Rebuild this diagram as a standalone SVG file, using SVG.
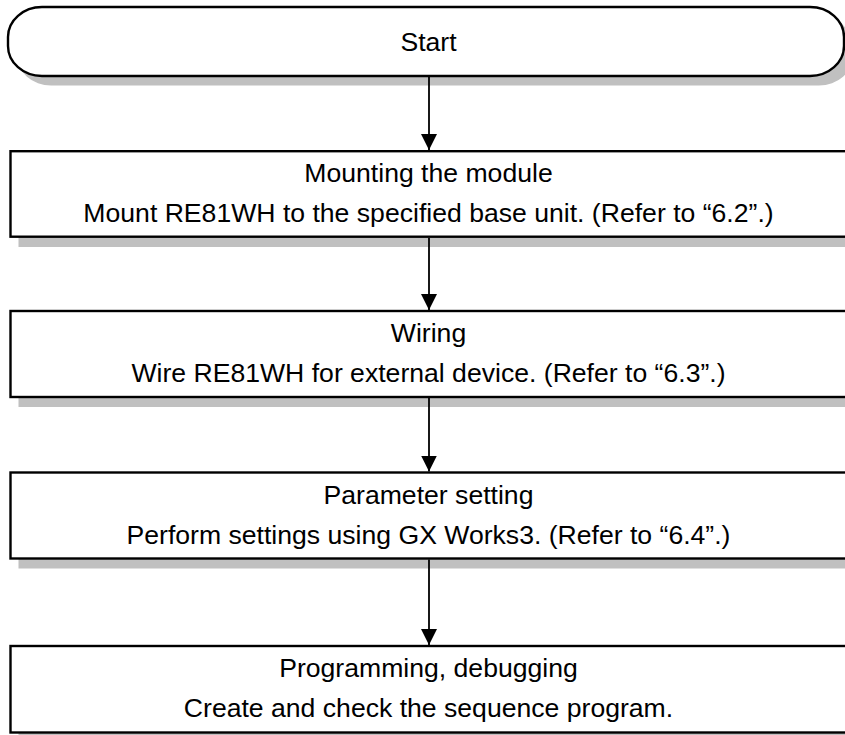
<svg xmlns="http://www.w3.org/2000/svg" width="845" height="735" viewBox="0 0 845 735">
<defs>
<style>
.box{fill:#fff;stroke:#000;stroke-width:2.4}
.shadow{fill:#c0c0c0;stroke:none}
.t{font-family:"Liberation Sans",Arial,sans-serif;font-size:26.6px;fill:#000;text-anchor:middle}
.conn{stroke:#000;stroke-width:1.8;fill:none}
</style>
<marker id="ah" markerUnits="userSpaceOnUse" markerWidth="16" markerHeight="16" refX="16" refY="8" orient="auto" viewBox="0 0 16 16">
<path d="M0,0 L16,8 L0,16 Z" fill="#000"/>
</marker>
</defs>
<rect width="845" height="735" fill="#fff"/>
<g id="start">
<rect class="shadow" x="17" y="16.5" width="836" height="69" rx="34" ry="30"/>
<rect class="box" x="8" y="7" width="836" height="69" rx="34" ry="30" stroke-width="2"/>
<text class="t" x="428.5" y="51">Start</text>
</g>
<g id="mount">
<rect class="shadow" x="18.5" y="161" width="840" height="86"/>
<rect class="box" x="10.5" y="151.2" width="840" height="85.5"/>
<text class="t" x="428.5" y="182">Mounting the module</text>
<text class="t" x="428.5" y="222">Mount RE81WH to the specified base unit. (Refer to “6.2”.)</text>
</g>
<g id="wiring">
<rect class="shadow" x="18.5" y="321" width="840" height="86"/>
<rect class="box" x="10.5" y="311" width="840" height="86"/>
<text class="t" x="428.5" y="342">Wiring</text>
<text class="t" x="428.5" y="382">Wire RE81WH for external device. (Refer to “6.3”.)</text>
</g>
<g id="param">
<rect class="shadow" x="18.5" y="482.5" width="840" height="86"/>
<rect class="box" x="10.5" y="472.5" width="840" height="86"/>
<text class="t" x="428.5" y="503.5">Parameter setting</text>
<text class="t" x="428.5" y="543.5">Perform settings using GX Works3. (Refer to “6.4”.)</text>
</g>
<g id="prog">
<rect class="shadow" x="18.5" y="656" width="840" height="86"/>
<rect class="box" x="10.5" y="646" width="840" height="86.5"/>
<text class="t" x="428.5" y="677">Programming, debugging</text>
<text class="t" x="428.5" y="717">Create and check the sequence program.</text>
</g>
<g id="connectors">
<line class="conn" x1="429" y1="77" x2="429" y2="150" marker-end="url(#ah)"/>
<line class="conn" x1="429" y1="238" x2="429" y2="310" marker-end="url(#ah)"/>
<line class="conn" x1="429" y1="398" x2="429" y2="471.5" marker-end="url(#ah)"/>
<line class="conn" x1="429" y1="559.5" x2="429" y2="645" marker-end="url(#ah)"/>
</g>
</svg>
